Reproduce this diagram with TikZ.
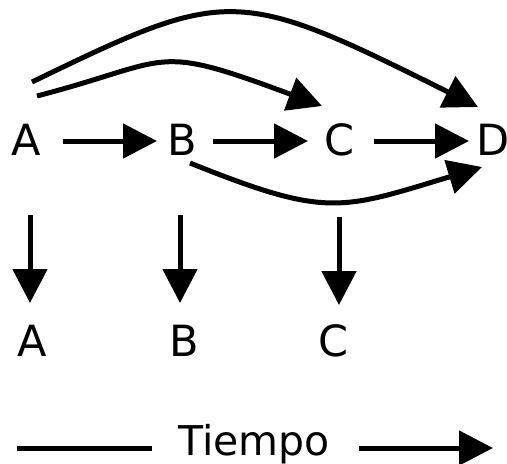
\documentclass[tikz,border=0pt]{standalone}
\usepackage{fontspec}
\setmainfont{DejaVu Sans}
\usetikzlibrary{arrows.meta,calc}
\begin{document}
\begin{tikzpicture}[x=1pt,y=-1pt,
  lbl/.style={inner sep=0pt,font=\fontsize{43}{50}\selectfont},
  arr/.style={line width=5pt,-{Triangle[length=34pt,width=34pt]}},
  plain/.style={line width=5pt}]
\useasboundingbox (0,0) rectangle (507,464);
% top row
\node[lbl] (A1) at (26,140) {A};
\node[lbl] (B1) at (182.5,140) {B};
\node[lbl] (C1) at (340,140) {C};
\node[lbl,anchor=west] (D1) at (476,140) {D};
% bottom row
\node[lbl] (A2) at (32.5,341) {A};
\node[lbl] (B2) at (184,341) {B};
\node[lbl] (C2) at (334,341) {C};
% time label
\node[inner sep=0pt,anchor=base west,font=\fontsize{41}{48}\selectfont] (T) at (178,455) {Tiempo};
\coordinate (tl) at (17,448);
\coordinate (tm) at (152,448);
\coordinate (tn) at (359,448);
\coordinate (tr) at (493,448);
% horizontal arrows
\draw[arr] ($(A1)+(37,1)$) -- ($(B1)+(-25.5,1)$);
\draw[arr] ($(B1)+(30.5,1)$) -- ($(C1)+(-32,1)$);
\draw[arr] ($(C1)+(34,1)$) -- ($(D1.west)+(-7,1)$);
% curved arrows
\draw[arr] ($(A1)+(6,-58)$) .. controls (228,-13) and (236,-14) .. ($(D1.west)+(2,-33)$);
\draw[arr] ($(A1)+(11,-44)$) .. controls (175,60) and (150,42) .. ($(C1)+(-18,-34)$);
\draw[arr] ($(B1)+(7.5,23)$) .. controls (327,218) and (340,210) .. ($(D1.west)+(6,27)$);
% vertical arrows
\draw[arr] ($(A1)+(4,75)$) -- ($(A2)+(-2.5,-38)$);
\draw[arr] ($(B1)+(-2.5,75)$) -- ($(B2)+(-4,-38)$);
\draw[arr] ($(C1)+(-1,77)$) -- ($(C2)+(5,-36)$);
% time line
\draw[plain] (tl) -- (tm);
\draw[arr] (tn) -- (tr);
\end{tikzpicture}
\end{document}
